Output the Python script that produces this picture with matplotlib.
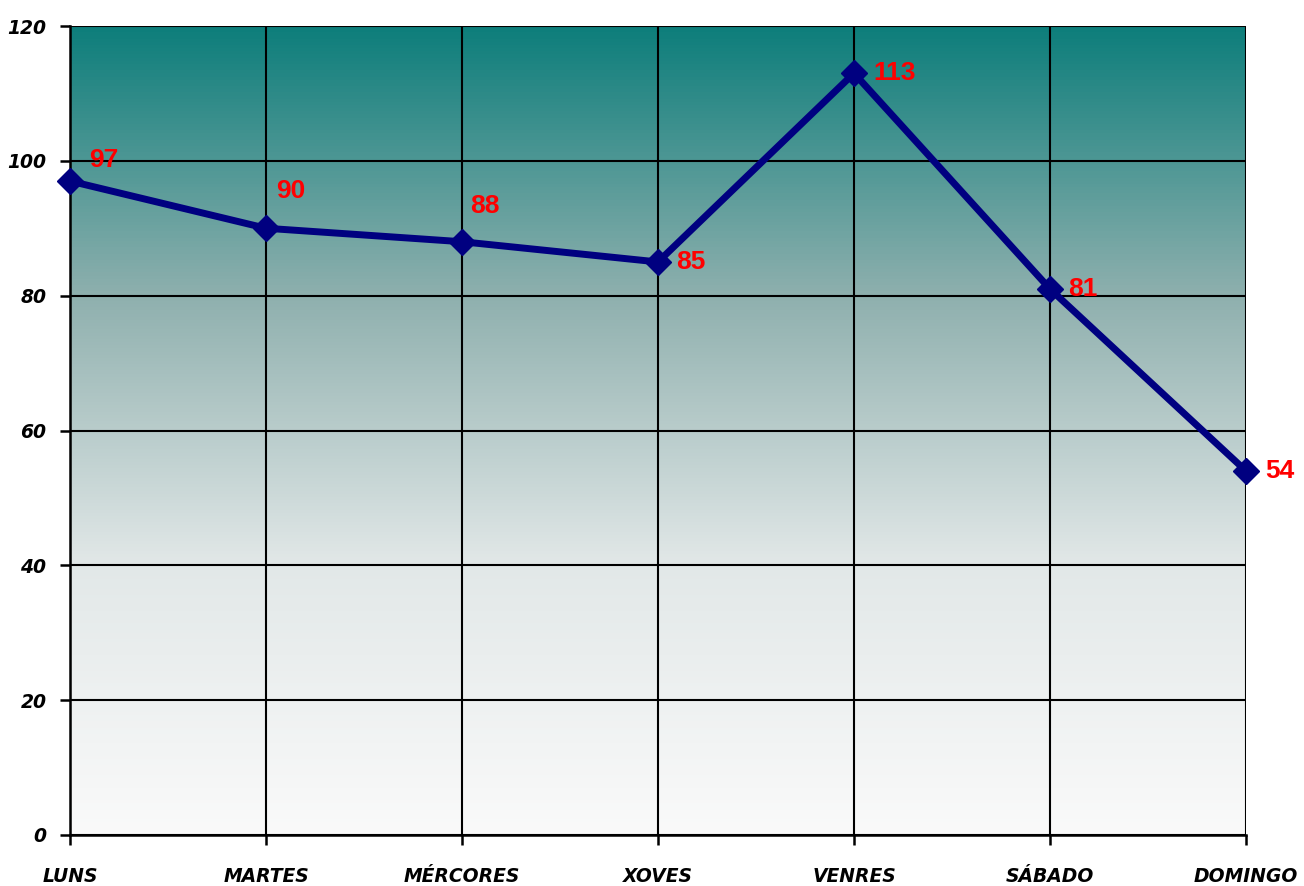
import numpy as np
import matplotlib.pyplot as plt
from matplotlib.colors import LinearSegmentedColormap

# data
dias = ['LUNS', 'MARTES', 'MÉRCORES', 'XOVES', 'VENRES', 'SÁBADO', 'DOMINGO']
valores = [97, 90, 88, 85, 113, 81, 54]
y_ticks = [0, 20, 40, 60, 80, 100, 120]

fig = plt.figure(figsize=(13.04, 8.86), dpi=100)
ax = fig.add_axes([70 / 1304, 1 - 835 / 886, 1176 / 1304, 809 / 886])

# gradient background teal -> white
cmap = LinearSegmentedColormap.from_list('fondo', ['#fafafa', '#e2e8e8', '#8fb0ae', '#0d7e7b'])
grad = np.linspace(0, 1, 256).reshape(-1, 1)
ax.imshow(grad, cmap=cmap, aspect='auto', origin='lower',
          extent=[0, len(dias) - 1, 0, 120], zorder=0)

x = np.arange(len(dias))
ax.plot(x, valores, color='#000080', linewidth=5, marker='D', markersize=13,
        zorder=3, clip_on=False)

# data labels (offsets in points from each marker)
offsets = [(14, 15), (7, 27), (6, 26), (13, 0), (14, 0), (13, 0), (14, 0)]
for xi, v, off in zip(x, valores, offsets):
    ax.annotate(str(v), (xi, v), xytext=off, textcoords='offset points',
                ha='left', va='center', color='red', fontsize=19,
                fontweight='bold', family='Liberation Sans', zorder=4)

ax.set_xlim(0, len(dias) - 1)
ax.set_ylim(0, 120)
ax.set_yticks(y_ticks)
ax.set_xticks(x)
ax.set_xticklabels(dias)
ax.grid(True, color='black', linewidth=1.5, zorder=1)
ax.set_axisbelow(False)

for s in ['top', 'right']:
    ax.spines[s].set_visible(False)
for s in ['left', 'bottom']:
    ax.spines[s].set_linewidth(1.8)
    ax.spines[s].set_zorder(2)

ax.tick_params(axis='both', length=7, width=1.8, direction='out')
ax.tick_params(axis='y', pad=10)
ax.tick_params(axis='x', pad=16)
for lab in ax.get_xticklabels() + ax.get_yticklabels():
    lab.set_fontstyle('italic')
    lab.set_fontweight('bold')
    lab.set_fontsize(13.5)
for lab in ax.get_xticklabels():
    lab.set_fontsize(13.5)

fig.savefig('out.png', dpi=100)
